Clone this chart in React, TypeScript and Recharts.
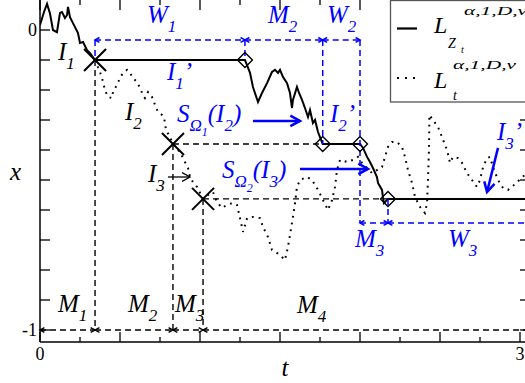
import React from "react";
import { LineChart, Line, XAxis, YAxis, ReferenceLine, ReferenceDot, Legend } from "recharts";

// domain of the plot frame
const T_MAX = 3.0625;
const X_MIN = -1.04;
const X_MAX = 0.1;

// L_Z (solid) path
const lzPath = [
  { t: 0, x: 0.017 }, { t: 0.025, x: 0.06 }, { t: 0.044, x: 0.087 }, { t: 0.0625, x: 0.055 },
  { t: 0.081, x: 0.0 }, { t: 0.106, x: -0.007 }, { t: 0.125, x: 0.057 }, { t: 0.1375, x: 0.06 },
  { t: 0.156, x: 0.04 }, { t: 0.169, x: 0.05 }, { t: 0.175, x: 0.077 }, { t: 0.1875, x: 0.043 },
  { t: 0.206, x: 0.023 }, { t: 0.2375, x: -0.01 }, { t: 0.25, x: -0.043 }, { t: 0.269, x: -0.04 },
  { t: 0.294, x: -0.067 }, { t: 0.3125, x: -0.077 }, { t: 0.344, x: -0.1 },
  { t: 1.281, x: -0.1 }, { t: 1.294, x: -0.117 }, { t: 1.3125, x: -0.143 }, { t: 1.331, x: -0.19 },
  { t: 1.3625, x: -0.24 }, { t: 1.3875, x: -0.21 }, { t: 1.419, x: -0.177 }, { t: 1.45, x: -0.14 },
  { t: 1.469, x: -0.133 }, { t: 1.4875, x: -0.143 }, { t: 1.5, x: -0.133 }, { t: 1.519, x: -0.157 },
  { t: 1.544, x: -0.177 }, { t: 1.5625, x: -0.21 }, { t: 1.575, x: -0.26 }, { t: 1.581, x: -0.233 },
  { t: 1.606, x: -0.19 }, { t: 1.619, x: -0.21 }, { t: 1.6375, x: -0.233 }, { t: 1.656, x: -0.26 },
  { t: 1.675, x: -0.29 }, { t: 1.6875, x: -0.267 }, { t: 1.706, x: -0.31 }, { t: 1.719, x: -0.3 },
  { t: 1.7375, x: -0.34 }, { t: 1.767, x: -0.38 },
  { t: 2.0, x: -0.38 }, { t: 2.019, x: -0.393 }, { t: 2.044, x: -0.423 }, { t: 2.0625, x: -0.44 },
  { t: 2.081, x: -0.46 }, { t: 2.106, x: -0.49 }, { t: 2.1125, x: -0.51 }, { t: 2.1375, x: -0.533 },
  { t: 2.144, x: -0.56 }, { t: 2.15, x: -0.577 }, { t: 2.175, x: -0.563 },
  { t: 3.0625, x: -0.563 },
];

// L_t (dotted) path
const ltPath = [
  { t: 0.344, x: -0.1 }, { t: 0.375, x: -0.14 }, { t: 0.394, x: -0.173 }, { t: 0.406, x: -0.2 },
  { t: 0.425, x: -0.223 }, { t: 0.45, x: -0.227 }, { t: 0.456, x: -0.207 }, { t: 0.481, x: -0.183 },
  { t: 0.5, x: -0.16 }, { t: 0.519, x: -0.143 }, { t: 0.544, x: -0.133 }, { t: 0.5625, x: -0.143 },
  { t: 0.581, x: -0.16 }, { t: 0.606, x: -0.173 }, { t: 0.625, x: -0.193 }, { t: 0.644, x: -0.217 },
  { t: 0.656, x: -0.227 }, { t: 0.675, x: -0.207 }, { t: 0.7, x: -0.223 }, { t: 0.719, x: -0.25 },
  { t: 0.7375, x: -0.273 }, { t: 0.7625, x: -0.283 }, { t: 0.775, x: -0.29 }, { t: 0.7875, x: -0.333 },
  { t: 0.8125, x: -0.357 }, { t: 0.831, x: -0.38 }, { t: 0.875, x: -0.407 }, { t: 0.906, x: -0.44 },
  { t: 0.925, x: -0.46 }, { t: 0.9375, x: -0.49 }, { t: 0.956, x: -0.507 }, { t: 0.981, x: -0.523 },
  { t: 1.019, x: -0.563 }, { t: 1.05, x: -0.55 }, { t: 1.081, x: -0.54 }, { t: 1.106, x: -0.573 },
  { t: 1.1375, x: -0.593 }, { t: 1.169, x: -0.583 }, { t: 1.2, x: -0.577 }, { t: 1.231, x: -0.583 },
  { t: 1.25, x: -0.627 }, { t: 1.269, x: -0.673 }, { t: 1.294, x: -0.627 }, { t: 1.331, x: -0.623 },
  { t: 1.375, x: -0.627 }, { t: 1.394, x: -0.657 }, { t: 1.425, x: -0.69 }, { t: 1.45, x: -0.733 },
  { t: 1.481, x: -0.743 }, { t: 1.5125, x: -0.757 }, { t: 1.531, x: -0.767 }, { t: 1.55, x: -0.723 },
  { t: 1.575, x: -0.643 }, { t: 1.594, x: -0.577 }, { t: 1.606, x: -0.523 }, { t: 1.625, x: -0.5 },
  { t: 1.669, x: -0.49 }, { t: 1.7, x: -0.5 }, { t: 1.7375, x: -0.533 }, { t: 1.769, x: -0.567 },
  { t: 1.8, x: -0.6 }, { t: 1.825, x: -0.567 }, { t: 1.844, x: -0.523 }, { t: 1.856, x: -0.467 },
  { t: 1.875, x: -0.433 }, { t: 1.919, x: -0.44 }, { t: 1.956, x: -0.433 }, { t: 1.9875, x: -0.423 },
  { t: 2.0125, x: -0.443 }, { t: 2.044, x: -0.46 }, { t: 2.075, x: -0.477 }, { t: 2.106, x: -0.467 },
  { t: 2.1375, x: -0.457 }, { t: 2.156, x: -0.423 }, { t: 2.175, x: -0.39 }, { t: 2.2, x: -0.373 },
  { t: 2.231, x: -0.373 }, { t: 2.2625, x: -0.39 }, { t: 2.281, x: -0.423 }, { t: 2.3, x: -0.467 },
  { t: 2.325, x: -0.51 }, { t: 2.344, x: -0.557 }, { t: 2.375, x: -0.59 }, { t: 2.406, x: -0.61 },
  { t: 2.419, x: -0.577 }, { t: 2.425, x: -0.5 }, { t: 2.431, x: -0.4 }, { t: 2.434, x: -0.283 },
  { t: 2.456, x: -0.3 }, { t: 2.4875, x: -0.323 }, { t: 2.5125, x: -0.357 }, { t: 2.544, x: -0.4 },
  { t: 2.5625, x: -0.443 }, { t: 2.581, x: -0.423 }, { t: 2.6125, x: -0.427 }, { t: 2.6375, x: -0.443 },
  { t: 2.669, x: -0.477 }, { t: 2.7, x: -0.5 }, { t: 2.731, x: -0.523 }, { t: 2.75, x: -0.5 },
  { t: 2.769, x: -0.457 }, { t: 2.794, x: -0.427 }, { t: 2.8125, x: -0.423 }, { t: 2.831, x: -0.457 },
  { t: 2.8625, x: -0.5 }, { t: 2.894, x: -0.527 }, { t: 2.925, x: -0.533 }, { t: 2.95, x: -0.523 },
  { t: 2.981, x: -0.507 }, { t: 3.0125, x: -0.493 }, { t: 3.05, x: -0.47 },
];

// crossing points I1, I2, I3 and the diamonds on L_Z
const hitT = [0.344, 0.831, 1.019];
const hitX = [-0.1, -0.38, -0.563];
const diamondT = [1.281, 1.767, 2.0, 2.175];
const diamondX = [-0.1, -0.38, -0.38, -0.563];
const topBracket = -0.033;
const m3Bracket = -0.643;
const floorLevel = -1.0;

// tick marks
const xMajor = [0, 0.5, 1, 1.5, 2, 2.5, 3];
const xMinor = [0.25, 0.75, 1.25, 1.75, 2.25, 2.75];
const yTicks = [0, -0.1, -0.2, -0.3, -0.4, -0.5, -0.6, -0.7, -0.8, -0.9, -1];

const BLUE = "#0000ff";
const SERIF = "'Liberation Serif', 'Times New Roman', serif";

type Part = [string, number];
const SIZE = [25, 17, 12];
const SHIFT = [0, 9, 14];

const texShape = (parts: Part[], color: string) => (p: any) => {
  let prev = 0;
  return (
    <text x={p.cx} y={p.cy} fill={color} fontFamily={SERIF} fontStyle="italic">
      {parts.map(([s, lv], i) => {
        const dy = SHIFT[lv] - SHIFT[prev];
        prev = lv;
        return (
          <tspan key={i} dy={dy} fontSize={SIZE[lv]}>
            {s}
          </tspan>
        );
      })}
    </text>
  );
};

const notes: { t: number; x: number; parts: Part[]; color: string }[] = [
  { t: 0.1125, x: -0.1, parts: [["I", 0], ["1", 1]], color: "#000" },
  { t: 0.669, x: 0.022, parts: [["W", 0], ["1", 1]], color: BLUE },
  { t: 0.794, x: -0.167, parts: [["I", 0], ["1", 1], ["\u2019", 0]], color: BLUE },
  { t: 0.531, x: -0.3, parts: [["I", 0], ["2", 1]], color: "#000" },
  { t: 0.856, x: -0.307, parts: [["S", 0], ["\u03a9", 1], ["1", 2], ["(I", 0], ["2", 1], [")", 0]], color: BLUE },
  { t: 0.675, x: -0.507, parts: [["I", 0], ["3", 1]], color: "#000" },
  { t: 1.1375, x: -0.493, parts: [["S", 0], ["\u03a9", 1], ["2", 2], ["(I", 0], ["3", 1], [")", 0]], color: BLUE },
  { t: 1.425, x: 0.022, parts: [["M", 0], ["2", 1]], color: BLUE },
  { t: 1.794, x: 0.022, parts: [["W", 0], ["2", 1]], color: BLUE },
  { t: 1.8125, x: -0.307, parts: [["I", 0], ["2", 1], ["\u2019", 0]], color: BLUE },
  { t: 2.856, x: -0.367, parts: [["I", 0], ["3", 1], ["\u2019", 0]], color: BLUE },
  { t: 1.969, x: -0.723, parts: [["M", 0], ["3", 1]], color: BLUE },
  { t: 2.55, x: -0.723, parts: [["W", 0], ["3", 1]], color: BLUE },
  { t: 0.1125, x: -0.94, parts: [["M", 0], ["1", 1]], color: "#000" },
  { t: 0.55, x: -0.94, parts: [["M", 0], ["2", 1]], color: "#000" },
  { t: 0.844, x: -0.94, parts: [["M", 0], ["3", 1]], color: "#000" },
  { t: 1.606, x: -0.943, parts: [["M", 0], ["4", 1]], color: "#000" },
];

type ArrowOpt = { color: string; width: number; head: number; dash?: string; start?: boolean; end?: boolean };

const arrowShape = (o: ArrowOpt) => (p: any) => {
  const { x1, y1, x2, y2 } = p;
  const a = Math.atan2(y2 - y1, x2 - x1);
  const head = (x: number, y: number, ang: number) => {
    const w = 0.5;
    const pts = `${x - o.head * Math.cos(ang - w)},${y - o.head * Math.sin(ang - w)} ${x},${y} ${x - o.head * Math.cos(ang + w)},${y - o.head * Math.sin(ang + w)}`;
    return <polyline points={pts} fill="none" stroke={o.color} strokeWidth={o.width} />;
  };
  return (
    <g>
      <line x1={x1} y1={y1} x2={x2} y2={y2} stroke={o.color} strokeWidth={o.width} strokeDasharray={o.dash} />
      {o.end && head(x2, y2, a)}
      {o.start && head(x1, y1, a + Math.PI)}
    </g>
  );
};

type Seg = { a: [number, number]; b: [number, number]; o: ArrowOpt };

const blueDash = (start: boolean, end: boolean): ArrowOpt => ({ color: BLUE, width: 1.5, head: 5, dash: "6 4", start, end });
const blackDash = (start: boolean, end: boolean): ArrowOpt => ({ color: "#000", width: 1.4, head: 5, dash: "6 4", start, end });
const blueSolid: ArrowOpt = { color: BLUE, width: 2.5, head: 11, end: true };

const segments: Seg[] = [
  // top brackets W1, M2, W2
  { a: [hitT[0], topBracket], b: [diamondT[0], topBracket], o: blueDash(true, true) },
  { a: [diamondT[0], topBracket], b: [diamondT[1], topBracket], o: blueDash(true, true) },
  { a: [diamondT[1], topBracket], b: [diamondT[2], topBracket], o: blueDash(true, true) },
  { a: [hitT[0], topBracket], b: [hitT[0], hitX[0]], o: blueDash(false, false) },
  { a: [diamondT[0], topBracket], b: [diamondT[0], diamondX[0]], o: blueDash(false, false) },
  { a: [diamondT[1], topBracket], b: [diamondT[1], diamondX[1]], o: blueDash(false, false) },
  { a: [diamondT[2], topBracket], b: [diamondT[2], m3Bracket], o: blueDash(false, false) },
  { a: [diamondT[3], diamondX[3]], b: [diamondT[3], m3Bracket], o: blueDash(false, false) },
  { a: [diamondT[2], m3Bracket], b: [diamondT[3], m3Bracket], o: blueDash(true, true) },
  { a: [diamondT[3], m3Bracket], b: [T_MAX, m3Bracket], o: blueDash(true, false) },
  // black guides
  { a: [hitT[0], hitX[0]], b: [hitT[0], floorLevel], o: blackDash(false, false) },
  { a: [hitT[1], hitX[1]], b: [hitT[1], floorLevel], o: blackDash(false, false) },
  { a: [hitT[2], hitX[2]], b: [hitT[2], floorLevel], o: blackDash(false, false) },
  { a: [hitT[1], hitX[1]], b: [diamondT[1], diamondX[1]], o: blackDash(false, false) },
  { a: [hitT[2], hitX[2]], b: [diamondT[3], diamondX[3]], o: blackDash(false, false) },
  { a: [0, floorLevel], b: [hitT[0], floorLevel], o: blackDash(true, true) },
  { a: [hitT[0], floorLevel], b: [hitT[1], floorLevel], o: blackDash(true, true) },
  { a: [hitT[1], floorLevel], b: [hitT[2], floorLevel], o: blackDash(true, true) },
  { a: [hitT[2], floorLevel], b: [T_MAX, floorLevel], o: blackDash(true, false) },
  // solid arrows
  { a: [1.331, -0.303], b: [1.625, -0.303], o: blueSolid },
  { a: [1.625, -0.463], b: [2.05, -0.463], o: blueSolid },
  { a: [2.8625, -0.393], b: [2.794, -0.54], o: blueSolid },
  { a: [0.8, -0.49], b: [0.9375, -0.49], o: { color: "#000", width: 1.3, head: 9, end: true } },
];

const crossShape = (p: any) => {
  const s = 11;
  return (
    <g stroke="#000" strokeWidth={2}>
      <line x1={p.cx - s} y1={p.cy - s} x2={p.cx + s} y2={p.cy + s} />
      <line x1={p.cx - s} y1={p.cy + s} x2={p.cx + s} y2={p.cy - s} />
    </g>
  );
};

const diamondShape = (p: any) => {
  const s = 7.5;
  return (
    <polygon
      points={`${p.cx},${p.cy - s} ${p.cx + s},${p.cy} ${p.cx},${p.cy + s} ${p.cx - s},${p.cy}`}
      fill="none"
      stroke="#000"
      strokeWidth={1.4}
    />
  );
};

const tickShape = (dx: number, dy: number) => (p: any) => (
  <line x1={p.cx} y1={p.cy} x2={p.cx + dx} y2={p.cy + dy} stroke="#000" strokeWidth={1.3} />
);

const LegendBox = () => (
  <svg width={160} height={106} style={{ display: "block" }}>
    <rect x={1.5} y={1.5} width={170} height={101.5} fill="#fff" stroke="#555" strokeWidth={1.3} />
    <line x1={8} y1={29.5} x2={28} y2={29.5} stroke="#000" strokeWidth={2.2} />
    <text fontFamily={SERIF} fontStyle="italic" fill="#000">
      <tspan x={45} y={34} fontSize={24}>L</tspan>
      <tspan x={59} y={49} fontSize={14}>Z</tspan>
      <tspan x={72} y={54} fontSize={10}>t</tspan>
      <tspan x={75} y={16} fontSize={13} textLength={63} lengthAdjust="spacingAndGlyphs">
        {"\u03b1,1,D,v"}
      </tspan>
    </text>
    <line x1={8} y1={79} x2={28} y2={79} stroke="#000" strokeWidth={2} strokeDasharray="2 6" />
    <text fontFamily={SERIF} fontStyle="italic" fill="#000">
      <tspan x={45} y={89} fontSize={24}>L</tspan>
      <tspan x={64} y={101} fontSize={14}>t</tspan>
      <tspan x={64} y={70} fontSize={13} textLength={63} lengthAdjust="spacingAndGlyphs">
        {"\u03b1,1,D,v"}
      </tspan>
    </text>
  </svg>
);

const axisTick = { fill: "#000", fontSize: 18, fontFamily: SERIF };

export default function App() {
  return (
    <div style={{ position: "absolute", left: 0, top: 0, width: 525, height: 383, overflow: "hidden", background: "#fff" }}>
      <LineChart width={545} height={383} margin={{ top: 0, right: 15, bottom: 0, left: 0 }}>
        <XAxis
          type="number"
          dataKey="t"
          domain={[0, T_MAX]}
          ticks={[0, 3]}
          allowDataOverflow
          tickLine={false}
          tickSize={0}
          tickMargin={5}
          height={41}
          axisLine={{ stroke: "#000", strokeWidth: 1.5 }}
          tick={axisTick}
          label={{ value: "t", position: "insideBottom", offset: 7, style: { fontFamily: SERIF, fontStyle: "italic", fontSize: 25, fill: "#000" } }}
        />
        <YAxis
          type="number"
          domain={[X_MIN, X_MAX]}
          ticks={[0, -1]}
          allowDataOverflow
          width={40}
          tickLine={false}
          tickSize={0}
          tickMargin={3}
          axisLine={{ stroke: "#000", strokeWidth: 1.5 }}
          tick={axisTick}
          label={{ value: "x", position: "insideLeft", offset: 10, style: { fontFamily: SERIF, fontStyle: "italic", fontSize: 25, fill: "#000" } }}
        />
        <ReferenceLine x={T_MAX} stroke="#000" strokeWidth={1.5} ifOverflow="visible" />
        {xMajor.map((t) => (
          <ReferenceDot key={`xb${t}`} x={t} y={X_MIN} ifOverflow="visible" shape={tickShape(0, -10)} />
        ))}
        {xMinor.map((t) => (
          <ReferenceDot key={`xm${t}`} x={t} y={X_MIN} ifOverflow="visible" shape={tickShape(0, -5)} />
        ))}
        {xMajor.map((t) => (
          <ReferenceDot key={`xt${t}`} x={t} y={X_MAX} ifOverflow="visible" shape={tickShape(0, 10)} />
        ))}
        {xMinor.map((t) => (
          <ReferenceDot key={`xtm${t}`} x={t} y={X_MAX} ifOverflow="visible" shape={tickShape(0, 5)} />
        ))}
        {yTicks.map((v) => (
          <ReferenceDot key={`yl${v}`} x={0} y={v} ifOverflow="visible" shape={tickShape(10, 0)} />
        ))}
        {yTicks.map((v) => (
          <ReferenceDot key={`yr${v}`} x={T_MAX} y={v} ifOverflow="visible" shape={tickShape(-10, 0)} />
        ))}
        <Line data={ltPath} dataKey="x" type="linear" stroke="#000" strokeWidth={2} strokeDasharray="1.8 5" dot={false} isAnimationActive={false} />
        <Line data={lzPath} dataKey="x" type="linear" stroke="#000" strokeWidth={2} dot={false} isAnimationActive={false} />
        {segments.map((s, i) => (
          <ReferenceLine
            key={`seg${i}`}
            segment={[{ x: s.a[0], y: s.a[1] }, { x: s.b[0], y: s.b[1] }]}
            ifOverflow="visible"
            shape={arrowShape(s.o)}
          />
        ))}
        {hitT.map((t, i) => (
          <ReferenceDot key={`c${i}`} x={t} y={hitX[i]} ifOverflow="visible" shape={crossShape} />
        ))}
        {diamondT.map((t, i) => (
          <ReferenceDot key={`d${i}`} x={t} y={diamondX[i]} ifOverflow="visible" shape={diamondShape} />
        ))}
        {notes.map((n, i) => (
          <ReferenceDot key={`n${i}`} x={n.t} y={n.x} ifOverflow="visible" shape={texShape(n.parts, n.color)} />
        ))}
        <Legend
          layout="horizontal"
          verticalAlign="middle"
          align="center"
          wrapperStyle={{ left: 389, top: -1, width: 160, height: 106 }}
          content={() => <LegendBox />}
        />
      </LineChart>
    </div>
  );
}
